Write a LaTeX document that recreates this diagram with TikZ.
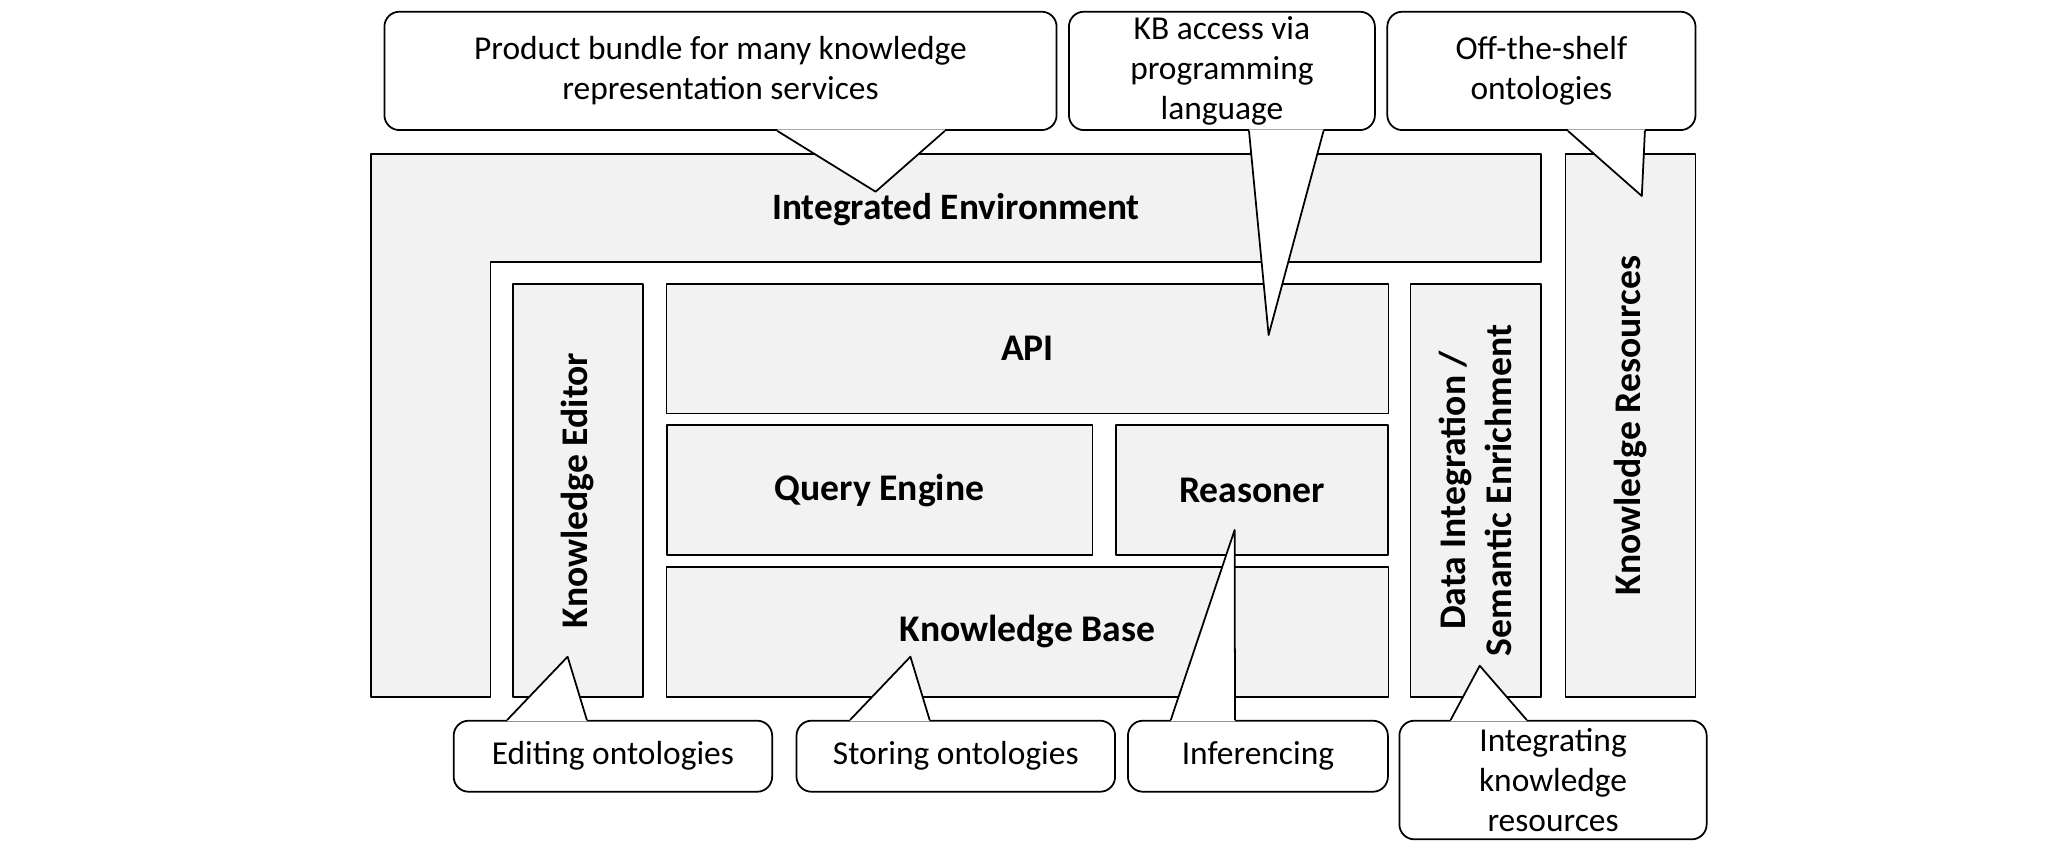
\documentclass[tikz,border=0pt]{standalone}
\usepackage{fontspec}
\setmainfont{Carlito}
\usepackage{xcolor}
\usetikzlibrary{calc}
\definecolor{boxgrey}{HTML}{F2F2F2}

% pointer of a callout: anchor, base x1, base x2, tip, inward shift
\newcommand{\calltail}[5]{%
  \fill[white] (#2,0 |- #1) -- (#4) -- (#3,0 |- #1) -- ++(0,#5) -| (#2,0 |- #1) -- cycle;
  \draw[line width=0.5pt] (#2,0 |- #1) -- (#4) -- (#3,0 |- #1);
}

\begin{document}
\begin{tikzpicture}[line cap=round,line join=round,x=0.01cm,y=-0.01cm,
  box/.style={draw,line width=0.5pt,fill=boxgrey,inner sep=0pt,align=center,font=\fontsize{10.7}{13}\selectfont\bfseries},
  bubble/.style={draw,line width=0.5pt,fill=white,rounded corners=0.15cm,inner sep=0pt,align=center,font=\fontsize{9.5}{11.4}\selectfont}]
\useasboundingbox (0,0) rectangle (2055,860);
% environment frame
\draw [line width=0.5pt,fill=boxgrey] (371.2,154) -- (1540.9,154) -- (1540.9,262) -- (490.4,262) -- (490.4,696.7) -- (371.2,696.7) -- cycle;
\node [font=\fontsize{10.6}{13}\selectfont\bfseries] (env) at (956,210) {Integrated Environment};
% components
\node [box,rotate=90,minimum width=4.127cm,minimum height=1.295cm] (editor) at (577.9,490.4) {Knowledge Editor};
\node [box,minimum width=7.215cm,minimum height=1.293cm] (api) at (1027.5,348.7) {API};
\node [box,minimum width=4.255cm,minimum height=1.3cm] (query) at (879.5,490) {Query Engine};
\node [box,minimum width=2.723cm,minimum height=1.3cm] (reasoner) at (1252,490) {Reasoner};
\node [box,minimum width=7.215cm,minimum height=1.3cm] (kb) at (1027.5,631.7) {Knowledge Base};
\node [box,rotate=90,minimum width=4.127cm,minimum height=1.304cm] (integration) at (1475.7,490.4) {Data Integration /\\Semantic Enrichment};
\node [box,rotate=90,minimum width=5.427cm,minimum height=1.3cm] (resources) at (1630.4,425.4) {Knowledge Resources};
% callouts
\coordinate (bundletip) at (875.6,191.7);
\coordinate (accesstip) at (1268.6,335);
\coordinate (shelftip) at (1641.8,196);
\coordinate (editingtip) at (567.6,656.7);
\coordinate (storingtip) at (910.4,656.7);
\coordinate (inferencingtip) at (1234.6,530);
\coordinate (integratingtip) at (1479.7,665.7);
\node [bubble,minimum width=6.718cm,minimum height=1.183cm] (bundle) at (720.5,70.9) {Product bundle for many knowledge\\representation services};
\calltail{bundle.south}{777.4}{944.8}{bundletip}{-1.5}
\node [bubble,minimum width=3.058cm,minimum height=1.183cm] (access) at (1221.9,70.9) {KB access via\\programming\\language};
\calltail{access.south}{1249}{1323.5}{accesstip}{-1.5}
\node [bubble,minimum width=3.08cm,minimum height=1.183cm] (shelf) at (1541.4,70.9) {Off-the-shelf\\ontologies};
\calltail{shelf.south}{1568}{1644.9}{shelftip}{-1.5}
\node [bubble,minimum width=3.183cm,minimum height=0.71cm] (editing) at (612.9,756.2) {Editing ontologies};
\calltail{editing.north}{507.3}{586.8}{editingtip}{1.5}
\node [bubble,minimum width=3.184cm,minimum height=0.71cm] (storing) at (955.8,756.2) {Storing ontologies};
\calltail{storing.north}{850.2}{929.6}{storingtip}{1.5}
\node [bubble,minimum width=2.598cm,minimum height=0.71cm] (inferencing) at (1257.9,756.2) {Inferencing};
\calltail{inferencing.north}{1170.8}{1235}{inferencingtip}{1.5}
\node [bubble,minimum width=3.071cm,minimum height=1.186cm] (integrating) at (1553,780) {Integrating\\knowledge\\resources};
\calltail{integrating.north}{1450.7}{1526.6}{integratingtip}{1.5}
\end{tikzpicture}
\end{document}
